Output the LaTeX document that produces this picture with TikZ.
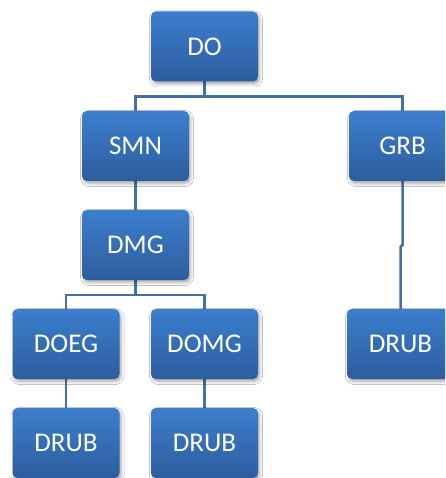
\documentclass[tikz,border=0pt]{standalone}
\usepackage{fontspec}
\setmainfont{Carlito}
\usetikzlibrary{shadows.blur}
\definecolor{boxtop}{RGB}{60,126,206}
\definecolor{boxbot}{RGB}{45,93,157}
\definecolor{linkcol}{RGB}{68,112,170}
\tikzset{
  x=1pt, y=-1pt,
  orgbox/.style={rectangle, rounded corners=5pt, minimum width=107pt, minimum height=70pt,
    top color=boxtop, bottom color=boxbot, text=white, inner sep=0pt,
    font=\fontsize{27}{30}\selectfont,
    blur shadow={shadow xshift=1.5pt, shadow yshift=-2.5pt, shadow blur radius=3pt, shadow opacity=35}},
  link/.style={draw=linkcol, line width=2.5pt}
}
\begin{document}
\begin{tikzpicture}
\useasboundingbox (0,0) rectangle (445,478);
\clip (0,0) rectangle (445,478);
\fill[white] (0,0) rectangle (445,478);
% tree links, drawn first so the boxes cover their ends
\coordinate (bar) at (204.5,96.5);
\coordinate (barb) at (135.5,295);
\coordinate (jog) at (402.5,245);
\draw[link] (204.5,46.5) -- (bar);
\draw[link] (bar) -| (135.5,146);
\draw[link] (bar) -| (402.5,146);
\draw[link] (135.5,146) -- (135.5,245);
\draw[link] (135.5,245) -- (barb);
\draw[link] (barb) -| (66,344);
\draw[link] (barb) -| (204.5,344);
\draw[link] (66,344) -- (66,443);
\draw[link] (204.5,344) -- (204.5,443);
\draw[link] (402.5,146) -- (jog) -- (400.5,247) -- (400.5,344);
% boxes
\node[orgbox] (do)   at (204.5,46.5) {DO};
\node[orgbox] (smn)  at (135.5,146)  {SMN};
\node[orgbox] (grb)  at (402.5,146)  {GRB};
\node[orgbox] (dmg)  at (135.5,245)  {DMG};
\node[orgbox] (doeg) at (66,344)     {DOEG};
\node[orgbox] (domg) at (204.5,344)  {DOMG};
\node[orgbox] (rdrub) at (400.5,344) {DRUB};
\node[orgbox] (ldrub) at (66,443)    {DRUB};
\node[orgbox] (mdrub) at (204.5,443) {DRUB};
\end{tikzpicture}
\end{document}
